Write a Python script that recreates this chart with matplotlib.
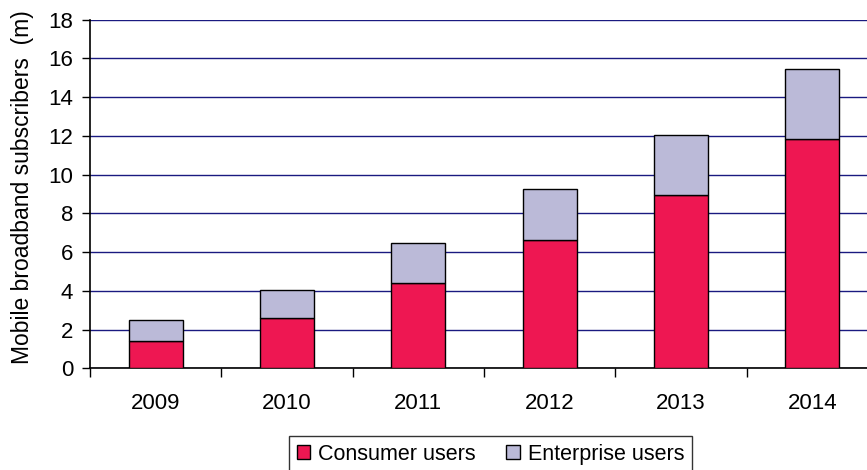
import matplotlib
matplotlib.use("Agg")
import matplotlib.pyplot as plt
import numpy as np

years = ["2009", "2010", "2011", "2012", "2013", "2014"]
consumer = [1.43, 2.61, 4.42, 6.62, 8.95, 11.84]
enterprise = [1.05, 1.45, 2.03, 2.64, 3.10, 3.60]
y_ticks = [0, 2, 4, 6, 8, 10, 12, 14, 16, 18]

plt.rcParams["font.family"] = ["Liberation Sans", "DejaVu Sans"]
FS = 16

W, H = 867, 470
fig = plt.figure(figsize=(W / 100, H / 100), dpi=100)
left, right, bottom, top = 90, 878, 368.3, 19.7
ax = fig.add_axes([left / W, (H - bottom) / H, (right - left) / W, (bottom - top) / H])

x = np.arange(len(years))
bw = 0.41
ax.bar(x, consumer, bw, color="#EE1752", edgecolor="black", linewidth=1.0,
       label="Consumer users", zorder=3)
ax.bar(x, enterprise, bw, bottom=consumer, color="#BBBAD8", edgecolor="black",
       linewidth=1.0, label="Enterprise users", zorder=3)

ax.set_xlim(-0.5, len(years) - 0.5)
ax.set_ylim(0, 18)
ax.set_yticks(y_ticks)
ax.set_yticklabels([str(v) for v in y_ticks], fontsize=FS)
ax.yaxis.grid(True, color="#1A1A80", linewidth=1.0, zorder=0)
ax.set_axisbelow(True)

# category labels centred, tick marks on category boundaries
ax.set_xticks(x)
ax.set_xticklabels(years, fontsize=FS)
ax.tick_params(axis="x", which="major", length=0, pad=18)
ax.set_xticks(np.arange(len(years) + 1) - 0.5, minor=True)
ax.tick_params(axis="x", which="minor", length=6.5, width=1, color="black", direction="out")
ax.tick_params(axis="y", length=6, width=1, direction="out", pad=6)

for s in ["top", "right"]:
    ax.spines[s].set_visible(False)
for s in ["left", "bottom"]:
    ax.spines[s].set_color("black")
    ax.spines[s].set_linewidth(1.2)

ax.set_ylabel("Mobile broadband subscribers  (m)", fontsize=16.5)
ax.yaxis.set_label_coords(-0.071, 0.52)

leg = fig.legend(loc="upper left", bbox_to_anchor=(289 / W, 1 - 436 / H),
                 bbox_transform=fig.transFigure, ncol=2, fontsize=15.5,
                 frameon=True, fancybox=False, edgecolor="black",
                 handlelength=0.62, handleheight=0.62, handletextpad=0.4,
                 columnspacing=1.4, borderaxespad=0, borderpad=0.35)
leg.get_frame().set_linewidth(1.0)

fig.savefig("out.png", dpi=100)
